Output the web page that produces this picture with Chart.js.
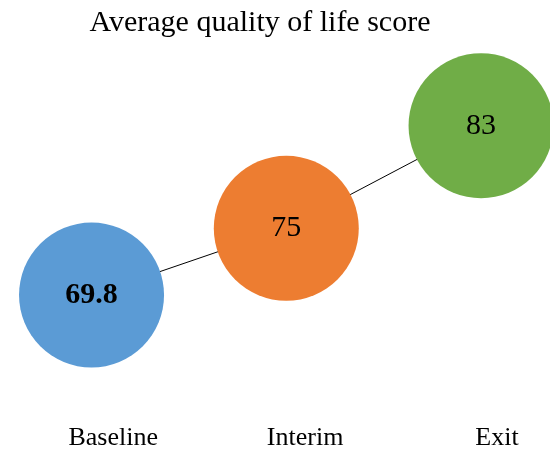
<!DOCTYPE html>
<html>
<head>
<meta charset="utf-8">
<title>Average quality of life score</title>
<script src="https://cdn.jsdelivr.net/npm/chart.js@4/dist/chart.umd.min.js"></script>
<style>
  html, body { margin: 0; padding: 0; background: #ffffff; }
  #wrap { position: relative; width: 550px; height: 451px; }
</style>
</head>
<body>
<div id="wrap"><canvas id="chart"></canvas></div>
<script>
// Survey stages and the mean score recorded at each one
const stages = ['Baseline', 'Interim', 'Exit'];
const scores = [69.8, 75, 83];
const stageColors = ['#5B9BD5', '#ED7D31', '#70AD47'];

const FONT = '"Liberation Serif", "Times New Roman", serif';

// Writes each score in the middle of its bubble
const bubbleValues = {
  id: 'bubbleValues',
  afterDatasetsDraw(chart) {
    const ctx = chart.ctx;
    const meta = chart.getDatasetMeta(0);
    ctx.save();
    ctx.fillStyle = '#000000';
    ctx.textAlign = 'center';
    ctx.textBaseline = 'middle';
    meta.data.forEach((pt, i) => {
      ctx.font = (i === 0 ? 'bold ' : '') + '30px ' + FONT;
      ctx.fillText(String(scores[i]), pt.x, pt.y);
    });
    ctx.restore();
  }
};

new Chart(document.getElementById('chart'), {
  type: 'line',
  data: {
    datasets: [{
      data: scores.map((v, i) => ({ x: i + 1, y: v })),
      xAxisID: 'x',
      yAxisID: 'y',
      borderColor: '#000000',
      borderWidth: 1,
      pointRadius: 72.5,
      pointHoverRadius: 72.5,
      pointBorderWidth: 0,
      pointBackgroundColor: stageColors,
      pointBorderColor: stageColors,
      clip: false,
      fill: false,
      tension: 0
    }]
  },
  options: {
    responsive: true,
    maintainAspectRatio: false,
    animation: false,
    events: [],
    layout: {
      autoPadding: false,
      padding: { left: 0, right: 30, top: 0, bottom: -6 }
    },
    plugins: {
      legend: { display: false },
      tooltip: { enabled: false },
      title: {
        display: true,
        text: 'Average quality of life score',
        color: '#000000',
        font: { family: FONT, size: 30, weight: 'normal', lineHeight: 1.2 },
        padding: { top: 5, bottom: 0 }
      }
    },
    scales: {
      x: {
        type: 'linear',
        display: false,
        min: 0.53,
        max: 3.2
      },
      stage: {
        type: 'linear',
        position: 'bottom',
        min: 0.41,
        max: 3.12,
        grid: { display: false },
        border: { display: false },
        afterBuildTicks(axis) {
          axis.ticks = stages.map((s, i) => ({ value: i + 1 }));
        },
        ticks: {
          autoSkip: false,
          maxRotation: 0,
          padding: 3,
          color: '#000000',
          font: { family: FONT, size: 26, lineHeight: 1.2 },
          callback: (value, index) => stages[index]
        }
      },
      y: {
        type: 'linear',
        display: false,
        min: 60.7,
        max: 89.6
      }
    }
  },
  plugins: [bubbleValues]
});
</script>
</body>
</html>
